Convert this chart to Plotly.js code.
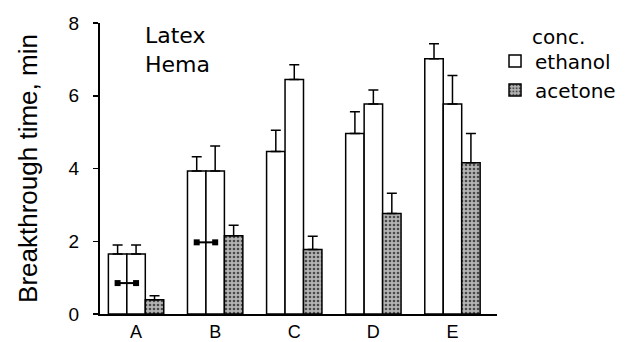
<!DOCTYPE html>
<html>
<head>
<meta charset="utf-8">
<script src="https://cdn.plot.ly/plotly-3.0.1.min.js"></script>
<style>html,body{margin:0;padding:0;background:#fff;}#chart{width:627px;height:342px;}</style>
</head>
<body>
<div id="chart"></div>
<script>
const categories = ['A', 'B', 'C', 'D', 'E'];
const concVals = [1.65, 3.93, 4.47, 4.96, 7.02];
const concErr = [0.25, 0.39, 0.58, 0.60, 0.41];
const ethanolVals = [1.65, 3.93, 6.45, 5.77, 5.77];
const ethanolErr = [0.25, 0.69, 0.40, 0.39, 0.79];
const acetoneVals = [0.39, 2.15, 1.77, 2.76, 4.16];
const acetoneErr = [0.11, 0.29, 0.37, 0.56, 0.80];
const markCats = ['A', 'B'];
const markVals = [0.85, 1.97];
const yTicks = [0, 2, 4, 6, 8];

const bargap = 0.30;
const nSeries = 3;
const barW = (1 - bargap) / nSeries;
const idx = categories.map((c, i) => i);
const zeros = categories.map(() => 0);

function errY(arr) {
  return {type: 'data', symmetric: false, array: arr, arrayminus: zeros,
          color: '#000', thickness: 1.5, width: 5};
}
const outline = {color: '#000', width: 1.5};

const traces = [
  {type: 'bar', name: 'conc.', x: idx, y: concVals, showlegend: false,
   marker: {color: '#fff', line: outline}, error_y: errY(concErr)},
  {type: 'bar', name: 'ethanol', x: idx, y: ethanolVals,
   marker: {color: '#fff', line: outline}, error_y: errY(ethanolErr)},
  {type: 'bar', name: 'acetone', x: idx, y: acetoneVals,
   marker: {color: '#b4b4b4', line: outline,
            pattern: {shape: '.', fgcolor: '#4a4a4a', bgcolor: '#b4b4b4', size: 4, solidity: 0.35}},
   error_y: errY(acetoneErr)}
];

markCats.forEach((c, k) => {
  const i = categories.indexOf(c);
  traces.push({type: 'scatter', mode: 'lines+markers', showlegend: false, hoverinfo: 'skip',
    x: [i - barW, i], y: [markVals[k], markVals[k]],
    line: {color: '#000', width: 2},
    marker: {symbol: 'square', size: 6, color: '#000'}});
});

const layout = {
  width: 627, height: 342,
  margin: {l: 100, r: 130, t: 23, b: 28, autoexpand: false},
  paper_bgcolor: '#fff', plot_bgcolor: '#fff',
  barmode: 'group', bargap: bargap, bargroupgap: 0,
  showlegend: true,
  legend: {xref: 'container', yref: 'container', x: 0.7895, xanchor: 'left', y: 0.879, yanchor: 'top',
           bgcolor: 'rgba(0,0,0,0)', font: {family: 'DejaVu Sans', size: 20, color: '#000'},
           tracegroupgap: 0},
  xaxis: {type: 'linear', range: [-0.456, 4.563], tickmode: 'array', tickvals: idx, ticktext: categories,
          showline: true, linecolor: '#000', linewidth: 2, ticks: '', showgrid: false, zeroline: false,
          tickfont: {family: 'Liberation Sans, Arial', size: 18, color: '#000'}, fixedrange: true},
  yaxis: {range: [0, 8], tickmode: 'array', tickvals: yTicks, showline: true, linecolor: '#000', linewidth: 2,
          ticks: 'outside', ticklen: 5, tickwidth: 1.5, tickcolor: '#000', showgrid: false, zeroline: false,
          ticklabelstandoff: 10,
          tickfont: {family: 'Liberation Sans, Arial', size: 19, color: '#000'},
          title: {text: 'Breakthrough time, min', font: {family: 'Liberation Sans, Arial', size: 26, color: '#000'}, standoff: 24},
          fixedrange: true},
  annotations: [
    {xref: 'paper', yref: 'paper', x: 0.108, y: 0.907, xanchor: 'left', yanchor: 'middle', align: 'left',
     showarrow: false, text: 'Latex<br>Hema', font: {family: 'DejaVu Sans', size: 22, color: '#000'}},
    {xref: 'paper', yref: 'paper', x: 1.083, y: 0.952, xanchor: 'left', yanchor: 'middle',
     showarrow: false, text: 'conc.', font: {family: 'DejaVu Sans', size: 20, color: '#000'}}
  ]
};

Plotly.newPlot('chart', traces, layout, {displayModeBar: false, staticPlot: true});
</script>
</body>
</html>
